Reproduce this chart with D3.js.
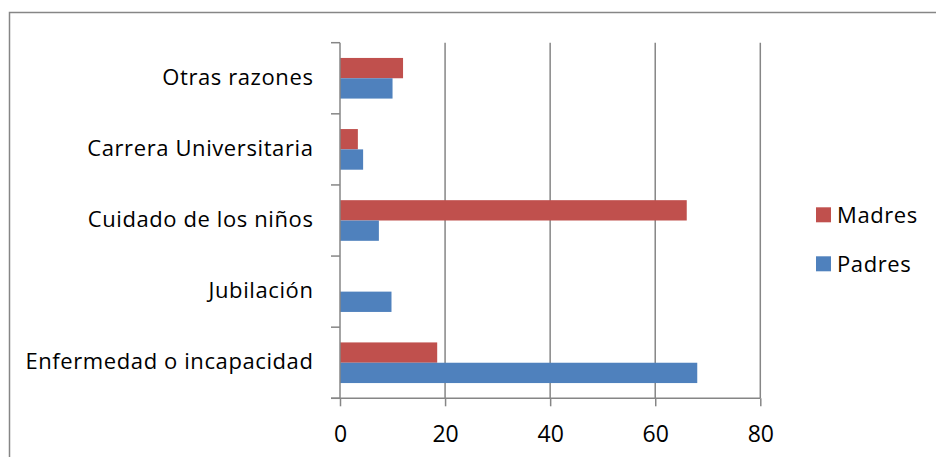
<!DOCTYPE html>
<html><head><meta charset="utf-8">
<script src="https://cdn.jsdelivr.net/npm/d3@7"></script>
<style>
html,body{margin:0;padding:0;background:#fff;}
text{font-family:"Open Sans", sans-serif;fill:#000;}
</style></head>
<body><svg id="c" width="936" height="457"></svg>
<script>
const categories = ["Otras razones","Carrera Universitaria","Cuidado de los niños","Jubilación","Enfermedad o incapacidad"];
const seriesNames = ["Madres","Padres"];
const madres = [12, 3.4, 66, 0, 18.5];
const padres = [10, 4.4, 7.4, 9.8, 68];
const xTicks = [0,20,40,60,80];
const colors = {Madres:"#C0504D", Padres:"#4F81BD"};

const svg = d3.select("#c");
const grey = "#868686";
const FS = 22, LS = "0.6px";
// outer border (clipped on right/bottom)
svg.append("rect").attr("x",9.5).attr("y",12.5).attr("width",940).attr("height",460)
  .attr("fill","none").attr("stroke",grey).attr("stroke-width",1.5);

const x = d3.scaleLinear().domain([0,80]).range([340,760.3]);
const y = d3.scaleBand().domain(categories).range([42.7,398.3]).padding(0);
const ys = d3.scaleBand().domain(seriesNames).range([0,y.bandwidth()]).paddingInner(0).paddingOuter(0.75);

// gridlines
svg.append("g").selectAll("line").data(xTicks.slice(1)).join("line")
  .attr("x1",d=>x(d)).attr("x2",d=>x(d)).attr("y1",42.7).attr("y2",398.3)
  .attr("stroke",grey).attr("stroke-width",1.5);

// bars
const data = categories.map((c,i)=>({cat:c, vals:[{s:"Madres",v:madres[i]},{s:"Padres",v:padres[i]}]}));
const g = svg.append("g").selectAll("g").data(data).join("g")
  .attr("transform",d=>`translate(0,${y(d.cat)})`);
g.selectAll("rect").data(d=>d.vals).join("rect")
  .attr("x",x(0)).attr("y",d=>ys(d.s)).attr("width",d=>x(d.v)-x(0)).attr("height",ys.bandwidth())
  .attr("fill",d=>colors[d.s]);

// y axis
const yAxis = d3.axisLeft(y).tickSize(0).tickPadding(26.5);
const ya = svg.append("g").attr("transform",`translate(340,0)`).call(yAxis);
ya.select(".domain").remove();
ya.selectAll("text").attr("font-size",FS).attr("font-family",null).attr("dy","0.3em").style("letter-spacing",LS);
const yEdges = categories.map(c=>y(c)).concat([y.range()[1]]);
svg.append("g").selectAll("line").data(yEdges).join("line")
  .attr("x1",331).attr("x2",340).attr("y1",d=>d).attr("y2",d=>d).attr("stroke",grey).attr("stroke-width",1.5);
svg.append("line").attr("x1",340).attr("x2",340).attr("y1",42.7).attr("y2",398.3).attr("stroke",grey).attr("stroke-width",1.5);

// x axis
const xAxis = d3.axisBottom(x).tickValues(xTicks).tickSize(8).tickPadding(19);
const xa = svg.append("g").attr("transform",`translate(0,398.3)`).call(xAxis);
xa.select(".domain").remove();
xa.selectAll("line").attr("stroke",grey).attr("stroke-width",1.5);
xa.selectAll("text").attr("font-size",23).attr("font-family",null);
svg.append("line").attr("x1",331).attr("x2",760.3).attr("y1",398.3).attr("y2",398.3).attr("stroke",grey).attr("stroke-width",1.5);

// legend
const leg = svg.append("g").selectAll("g").data(seriesNames).join("g")
  .attr("transform",(d,i)=>`translate(816,${207.3+i*49})`);
leg.append("rect").attr("width",15).attr("height",15).attr("fill",d=>colors[d]);
leg.append("text").attr("x",21).attr("y",15.2).attr("font-size",FS).style("letter-spacing",LS).text(d=>d);
</script></body></html>
